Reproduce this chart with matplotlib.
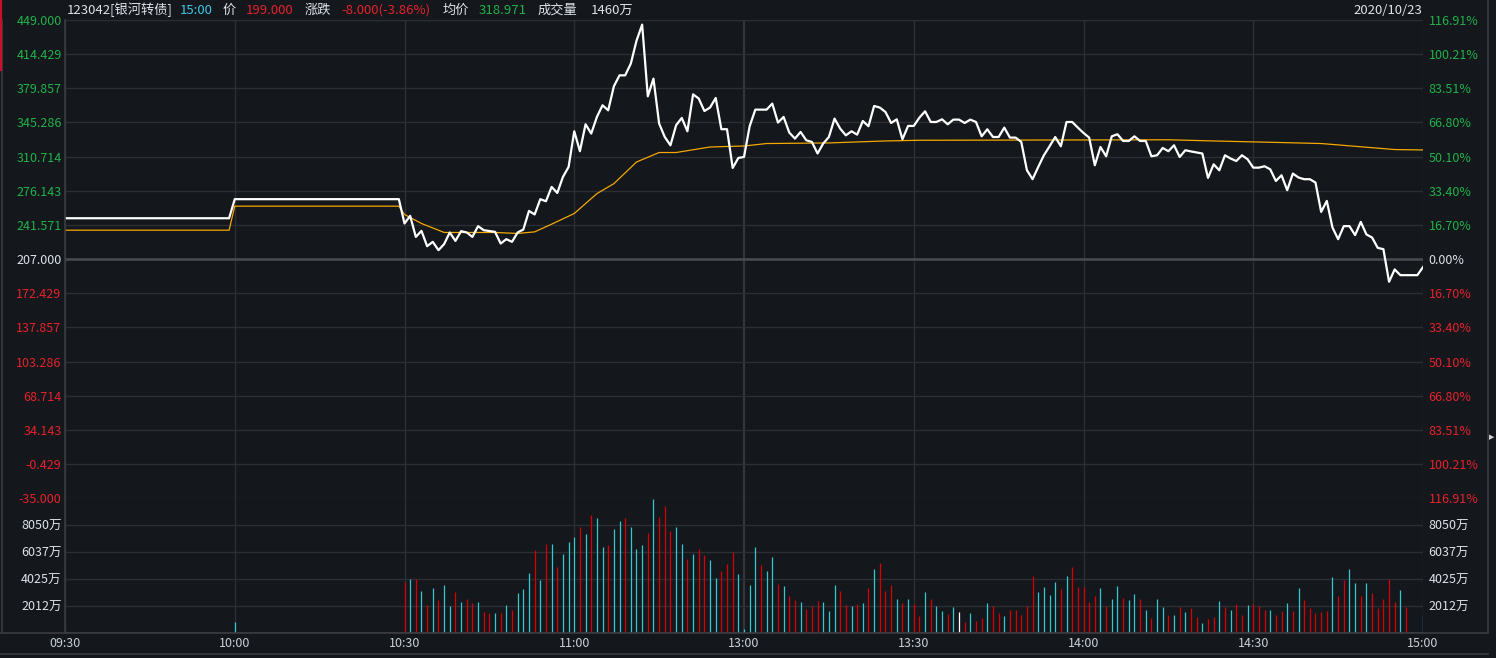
import matplotlib
matplotlib.use("Agg")
import matplotlib.pyplot as plt
from matplotlib.lines import Line2D

plt.rcParams['font.family'] = ['Noto Sans CJK SC', 'DejaVu Sans']

# minutes counted from 09:30 (index 120 = 11:30 / 13:00, 240 = 15:00)
price_min = [0, 29, 30, 59] + list(range(60, 237)) + [239, 240]
price_val = [248.4, 248.4, 267.7, 267.7,
             243.1, 250.8, 229.5, 235.6, 220.1, 224.5, 216.1, 222.2, 234.0, 225.5,
             235.3, 234.0, 229.5, 240.4, 236.3, 235.5, 234.6, 222.8, 227.2, 224.5,
             234.0, 237.0, 255.8, 252.2, 267.7, 265.6, 280.1, 274.0, 290.2, 300.3,
             336.4, 316.2, 343.5, 334.1, 350.9, 362.7, 357.6, 381.9, 393.0, 393.0,
             404.9, 428.0, 444.3, 371.8, 389.7, 344.2, 330.6, 322.2, 342.5, 349.9,
             336.4, 373.8, 369.5, 356.9, 360.4, 370.1, 338.5, 338.5, 299.3, 309.4,
             310.4, 341.5, 358.3, 358.3, 358.3, 364.4, 345.2, 350.9, 335.1, 329.0,
             335.7, 327.3, 325.6, 313.9, 324.0, 330.6, 349.2, 339.1, 332.3, 336.4,
             333.0, 346.8, 341.5, 362.0, 360.4, 355.9, 344.8, 348.5, 328.3, 341.8,
             341.8, 350.2, 356.6, 345.8, 345.8, 348.5, 343.5, 348.2, 348.2, 344.8,
             348.2, 345.8, 331.3, 338.4, 330.6, 330.6, 340.1, 330.0, 330.0, 325.6,
             297.0, 287.9, 300.3, 312.1, 321.2, 330.6, 321.2, 345.8, 345.8, 340.1,
             334.7, 330.0, 302.0, 320.5, 311.1, 331.3, 333.4, 326.6, 326.6, 331.3,
             326.6, 326.6, 311.1, 312.1, 319.5, 316.2, 322.2, 310.4, 317.2, 316.0,
             315.0, 313.9, 289.2, 303.0, 296.9, 312.1, 308.8, 306.3, 312.1, 308.1,
             299.6, 299.6, 301.0, 297.9, 286.1, 291.9, 276.8, 293.6, 289.6, 287.9,
             287.9, 284.5, 254.8, 265.9, 239.0, 227.2, 240.4, 240.4, 231.3, 244.7,
             232.0, 228.9, 218.4, 217.1, 184.1, 196.6, 190.8,
             190.8, 199.0]

avg_min = [0, 29, 30, 59, 60, 63, 67, 76, 80, 83, 86, 90, 94, 97, 101, 105, 108,
           114, 120, 124, 135, 145, 151, 195, 203, 215, 222, 228, 235, 240]
avg_val = [236.3, 236.3, 260.6, 260.6, 252.2, 243.1, 234.0, 234.0, 233.0, 234.6,
           242.4, 253.2, 273.3, 283.4, 305.3, 314.9, 314.9, 320.5, 321.5, 324.0,
           324.6, 326.6, 327.3, 327.8, 326.6, 325.0, 324.0, 321.2, 317.9, 317.5]

# volume (万) per minute, colour code r=up c=down w=flat
vol_min = [0, 30] + list(range(60, 241))
vol_val = [150, 860,
           3825, 4024, 4024, 3155, 2087, 3378, 2484, 3602, 2037, 3080,
           2335, 2559, 2260, 2335, 1590, 1515, 1515, 1515, 2111, 1739,
           3006, 3304, 4496, 6210, 3974, 6657, 6657, 4943, 5912, 6806,
           7179, 7924, 7402, 8818, 8595, 6434, 6583, 7775, 8371, 8595,
           7924, 6285, 6583, 7477, 10011, 8669, 9489, 7626, 7924, 6657,
           5539, 5912, 6285, 5837, 5465, 4123, 4645, 5167, 6061, 4422,
           323, 3602, 6434, 5092, 4645, 5688, 3676,
           3527, 2782, 2484, 2335, 1813, 2037, 2409, 2335, 1664, 3602,
           3155, 2111, 2037, 2186, 2260, 3378, 4794, 5241, 3155, 3602,
           2559, 2260, 2559, 2186, 1292, 3080, 2559, 2037, 1664, 1441,
           1962, 1590, 845, 1515, 919, 1143, 2260, 2037, 1515, 1292,
           1739, 1739, 1366, 2037, 4272, 3080, 3453, 2857, 3825, 3304,
           4272, 4943, 3453, 3453, 2335, 2782, 3378, 2037, 2559, 3527,
           2633, 2484, 2931, 2559, 1739, 1143,
           2559, 1962, 1366, 1366, 1962, 1590, 1888, 1217, 770, 1068,
           1217, 2410, 1962, 1739, 2186, 1366, 2111, 2186, 2037, 1739,
           1739, 1366, 1664, 2260, 1664, 3378, 2484, 1888, 1515, 1590,
           1664, 4198, 2782, 3974, 4794, 3751, 2782, 3751, 3006, 1888,
           2559, 4024, 2335, 3229, 1962, 99,
           0, 1366]
vol_dir = ("cc"
           + "rcrcrcrccr" + "crrcrrcrcr" + "cccrcrcrcc" + "crcrccrccr"
           + "cccrcrrrcc" + "rcrrccrrrc" + "cccrccr"
           + "crrcrrrccc" + "rrcrcrcrrr" + "crcrrcrccr" + "cwrcrrcrrc"
           + "rrrrrccccr" + "crrrrrcrcc" + "rccrcr"
           + "ccrcrcrrcr" + "rcrcrrcrrr" + "crrcrcrrrr" + "rcrrccrcrr"
           + "rrrcrc" + "cc")

prev_close = 207.0
price_ticks = [449.000, 414.429, 379.857, 345.286, 310.714, 276.143, 241.571, 207.000,
               172.429, 137.857, 103.286, 68.714, 34.143, -0.429, -35.000]
pct_labels = ["116.91%", "100.21%", "83.51%", "66.80%", "50.10%", "33.40%", "16.70%",
              "0.00%", "16.70%", "33.40%", "50.10%", "66.80%", "83.51%", "100.21%",
              "116.91%"]
vol_ticks = [2012.5, 4025, 6037.5, 8050]
vol_labels = ["2012万", "4025万", "6037万", "8050万"]
time_ticks = [0, 30, 60, 90, 120, 150, 180, 210, 240]
time_labels = ["09:30", "10:00", "10:30", "11:00", "13:00", "13:30", "14:00", "14:30", "15:00"]

BG = "#14171c"
GRID = "#2c2e33"
GREEN = "#1fb24a"
RED = "#e6222c"
LABEL = "#dde3ea"
cmap = {"r": "#d80000", "c": "#33c9d0", "w": "#ffffff"}

W, H = 1496, 658
fig = plt.figure(figsize=(W / 100, H / 100), dpi=100, facecolor=BG)


def fx(px):
    return px / W


def fy(py):
    return 1 - py / H


ax = fig.add_axes([fx(65), fy(498.3), fx(1423) - fx(65), fy(20) - fy(498.3)])
axv = fig.add_axes([fx(65), fy(633.3), fx(1423) - fx(65), fy(498.3) - fy(633.3)])

for a in (ax, axv):
    a.set_facecolor(BG)
    a.set_xlim(0, 240)
    for s in a.spines.values():
        s.set_visible(False)
    for t in time_ticks:
        lw = 1.6 if t == 120 else 1.0
        a.axvline(t, color="#34363b" if t == 120 else GRID, lw=lw, zorder=0)

# price panel
ax.set_ylim(-35, 449)
for v in price_ticks:
    if v == prev_close:
        ax.axhline(v, color="#4b4c50", lw=1.8, zorder=0)
    else:
        ax.axhline(v, color=GRID, lw=1.0, zorder=0)
ax.plot(avg_min, avg_val, color="#f5a800", lw=0.9, zorder=2)
ax.plot(price_min, price_val, color="white", lw=1.6, zorder=3)

ax.set_xticks([])
ax.set_yticks(price_ticks)
ax.set_yticklabels(["%.3f" % v for v in price_ticks], fontsize=9)
ax.tick_params(axis="y", length=0, pad=2.5)
for lab, v in zip(ax.get_yticklabels(), price_ticks):
    lab.set_color(GREEN if v > prev_close else (RED if v < prev_close else LABEL))

axr = ax.twinx()
axr.set_ylim(-35, 449)
axr.set_yticks(price_ticks)
axr.set_yticklabels(pct_labels, fontsize=9)
axr.tick_params(axis="y", length=0, pad=4)
for s in axr.spines.values():
    s.set_visible(False)
for lab, v in zip(axr.get_yticklabels(), price_ticks):
    lab.set_color(GREEN if v > prev_close else (RED if v < prev_close else LABEL))

# volume panel
axv.set_ylim(0, 10062.5)
for v in vol_ticks:
    axv.axhline(v, color=GRID, lw=1.0, zorder=0)
axv.axhline(0, color="#3a3c41", lw=1.2, zorder=0)
axv.vlines(vol_min, 0, vol_val, colors=[cmap[c] for c in vol_dir], lw=0.9, zorder=2)
axv.set_yticks(vol_ticks)
axv.set_yticklabels(vol_labels, fontsize=9, color=LABEL)
axv.tick_params(axis="y", length=0, pad=2.5)
axv.set_xticks(time_ticks)
axv.set_xticklabels(time_labels, fontsize=9, color="#c9d0d8")
axv.tick_params(axis="x", length=0, pad=2.5)

axvr = axv.twinx()
axvr.set_ylim(0, 10062.5)
axvr.set_yticks(vol_ticks)
axvr.set_yticklabels(vol_labels, fontsize=9, color=LABEL)
axvr.tick_params(axis="y", length=0, pad=4)
for s in axvr.spines.values():
    s.set_visible(False)

# frame lines
for coords in [((fx(65), fx(65)), (fy(20), fy(633.3))),
               ((fx(2), fx(2)), (fy(20), fy(633.3))),
               ((fx(1488), fx(1488)), (fy(0), fy(633.3))),
               ((fx(0), fx(1488)), (fy(633.3), fy(633.3))),
               ((fx(0), fx(1488)), (fy(653.5), fy(653.5)))]:
    fig.add_artist(Line2D(coords[0], coords[1], color="#3a3c41", lw=1.2))
fig.add_artist(Line2D((fx(0.8), fx(0.8)), (fy(0), fy(70)), color="#c8102e", lw=1.6))
fig.text(fx(1489), fy(437), "▶", color="#d0d0d0", fontsize=5, ha="left", va="center",
         family="DejaVu Sans")

# header
hy = fy(10)
header = [(67, "123042[银河转债]", LABEL), (180, "15:00", "#3cc8e8"), (223, "价", LABEL),
          (246, "199.000", RED), (305, "涨跌", LABEL), (341, "-8.000(-3.86%)", RED),
          (443, "均价", LABEL), (479, "318.971", GREEN), (538, "成交量", LABEL),
          (591, "1460万", LABEL)]
for x, s, c in header:
    fig.text(fx(x), hy, s, color=c, fontsize=9.5, ha="left", va="center")
fig.text(fx(1422), hy, "2020/10/23", color=LABEL, fontsize=9.5, ha="right", va="center")

fig.savefig("out.png", dpi=100, facecolor=BG)
